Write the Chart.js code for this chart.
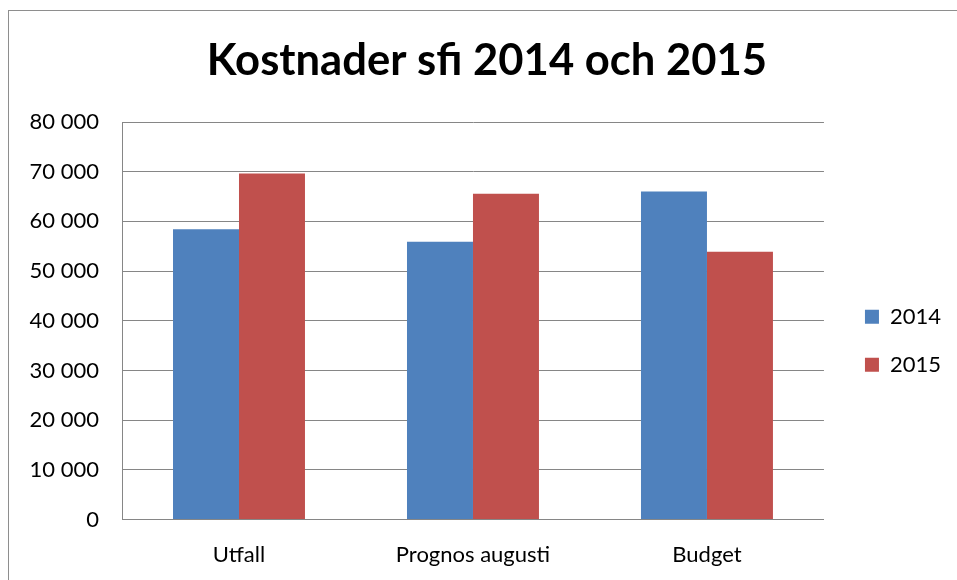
<!DOCTYPE html>
<html>
<head>
<meta charset="utf-8">
<script src="https://cdn.jsdelivr.net/npm/chart.js@4"></script>
<style>
  html, body { margin: 0; padding: 0; background: #fff; overflow: hidden; }
  #wrap { position: relative; width: 957px; height: 580px; }
  #frame { position: absolute; left: 8px; top: 10px; width: 1200px; height: 1200px; border: 1px solid #8e8e8e; box-sizing: border-box; }
  canvas { position: absolute; left: 0; top: 0; }
</style>
</head>
<body>
<div id="wrap">
  <div id="frame"></div>
  <canvas id="c" width="957" height="580"></canvas>
</div>
<script>
const titleText = 'Kostnader sfi 2014 och 2015';
const categories = ['Utfall', 'Prognos augusti', 'Budget'];
const series2014 = [58400, 55900, 66000];
const series2015 = [69650, 65550, 53900];
const seriesNames = ['2014', '2015'];
const yTicks = [0, 10000, 20000, 30000, 40000, 50000, 60000, 70000, 80000];

const FONT = 'Lato, "Open Sans", sans-serif';
const gridColor = '#868686';

const fmt = v => String(v).replace(/\B(?=(\d{3})+(?!\d))/g, ' ');

const boxShift = {
  id: 'boxShift',
  afterLayout(chart) {
    const lg = chart.legend;
    if (lg) {
      const dx = 15, dy = 20;
      lg.left += dx; lg.right += dx;
      lg.top += dy; lg.bottom += dy;
      if (lg.legendHitBoxes) lg.legendHitBoxes.forEach(h => { h.left += dx; h.top += dy; });
    }
    const tb = chart.titleBlock;
    if (tb) { tb.left += 18; tb.right += 0; }
  }
};

new Chart(document.getElementById('c'), {
  type: 'bar',
  data: {
    labels: categories,
    datasets: [
      { label: seriesNames[0], data: series2014, backgroundColor: '#4F81BD', borderWidth: 0 },
      { label: seriesNames[1], data: series2015, backgroundColor: '#C0504D', borderWidth: 0 }
    ]
  },
  options: {
    responsive: false,
    animation: false,
    layout: { padding: { left: 20, right: 21, top: 0, bottom: 0 } },
    datasets: { bar: { categoryPercentage: 0.564, barPercentage: 1.0 } },
    scales: {
      x: {
        grid: { display: false, drawTicks: false },
        border: { display: true, color: gridColor, width: 1 },
        ticks: { color: '#000', font: { family: FONT, size: 22 }, padding: 22 },
        afterFit(scale) { scale.height = 60.5; }
      },
      y: {
        min: 0, max: 80000,
        afterBuildTicks(scale) { scale.ticks = yTicks.map(v => ({ value: v })); },
        grid: { color: gridColor, lineWidth: 1, drawTicks: false },
        border: { display: true, color: gridColor, width: 1 },
        ticks: { color: '#000', font: { family: FONT, size: 22 }, padding: 23, callback: v => fmt(v) },
        afterFit(scale) { scale.width = 102; }
      }
    },
    plugins: {
      title: {
        display: true, text: titleText, color: '#000',
        font: { family: FONT, size: 43.6, weight: 'bold' },
        padding: { top: 35.2, bottom: 34.5 }
      },
      legend: {
        position: 'right',
        fullSize: false,
        labels: {
          color: '#000',
          font: { family: FONT, size: 22 },
          boxWidth: 14, boxHeight: 14, padding: 26
        }
      },
      tooltip: { enabled: false }
    }
  },
  plugins: [boxShift]
});
</script>
</body>
</html>
